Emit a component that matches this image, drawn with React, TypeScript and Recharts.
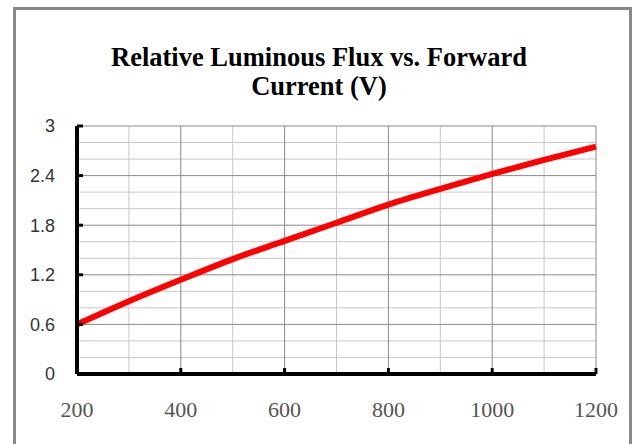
import React from 'react';
import { LineChart, Line, XAxis, YAxis, CartesianGrid } from 'recharts';

// forward current (mA) and relative luminous flux
const current = [200, 300, 400, 500, 600, 700, 800, 900, 1000, 1100, 1200];
const flux = [0.6, 0.88, 1.14, 1.39, 1.61, 1.83, 2.05, 2.24, 2.42, 2.59, 2.75];

const xTicks = [200, 400, 600, 800, 1000, 1200];
const yTicks = [0, 0.6, 1.2, 1.8, 2.4, 3];
const xMinor = [300, 500, 700, 900, 1100];
const yMinor = [0.2, 0.4, 0.8, 1.0, 1.4, 1.6, 2.0, 2.2, 2.6, 2.8];

const titleLines = ['Relative Luminous Flux vs. Forward', 'Current (V)'];

const data = current.map((c, i) => ({ current: c, flux: flux[i] }));

const XTick = ({ x, y, payload }: any) => (
  <g>
    {payload.value !== xTicks[0] && (
      <line x1={x} x2={x} y1={y} y2={y - 6} stroke="#000" strokeWidth={3} />
    )}
    <text
      x={x}
      y={y + 43}
      textAnchor="middle"
      fontFamily="'Liberation Serif', serif"
      fontSize={22}
      fill="#555"
    >
      {payload.value}
    </text>
  </g>
);

const YTick = ({ x, y, payload }: any) => (
  <g>
    {payload.value !== yTicks[0] && (
      <line x1={x} x2={x + 6} y1={y} y2={y} stroke="#000" strokeWidth={3} />
    )}
    <text
      x={x - 22}
      y={y}
      dy="0.36em"
      textAnchor="end"
      fontFamily="'Liberation Sans', sans-serif"
      fontSize={18}
      fill="#333"
    >
      {payload.value}
    </text>
  </g>
);

export default function App() {
  return (
    <div
      style={{
        position: 'absolute',
        left: 0,
        top: 0,
        width: 632,
        height: 444,
        overflow: 'hidden',
        background: '#fff',
      }}
    >
      <div
        style={{
          position: 'absolute',
          left: 13,
          top: 7,
          width: 613,
          height: 460,
          border: '3px solid #888',
        }}
      />
      <svg
        width={632}
        height={120}
        style={{ position: 'absolute', left: 0, top: 0, pointerEvents: 'none' }}
      >
        {titleLines.map((t, i) => (
          <text
            key={t}
            x={319}
            y={66 + i * 29}
            textAnchor="middle"
            fontFamily="'Liberation Serif', serif"
            fontWeight="bold"
            fontSize={26.5}
            fill="#000"
          >
            {t}
          </text>
        ))}
      </svg>
      <div style={{ position: 'absolute', left: 0, top: 0 }}>
        <LineChart
          width={632}
          height={444}
          data={data}
          margin={{ top: 126, right: 36, left: 0, bottom: 0 }}
        >
          <CartesianGrid
            horizontalValues={yMinor}
            verticalValues={xMinor}
            stroke="#c8c8c8"
            strokeWidth={1}
          />
          <CartesianGrid
            horizontalValues={yTicks}
            verticalValues={xTicks}
            stroke="#8a8a8a"
            strokeWidth={1}
          />
          <XAxis
            dataKey="current"
            type="number"
            domain={[200, 1200]}
            ticks={xTicks}
            height={70}
            tickSize={0}
            tickMargin={0}
            tickLine={false}
            axisLine={{ stroke: '#000', strokeWidth: 4 }}
            tick={<XTick />}
            interval={0}
          />
          <YAxis
            type="number"
            domain={[0, 3]}
            ticks={yTicks}
            width={77}
            tickSize={0}
            tickMargin={0}
            tickLine={false}
            axisLine={{ stroke: '#000', strokeWidth: 4 }}
            tick={<YTick />}
            interval={0}
          />
          <Line
            type="monotone"
            dataKey="flux"
            stroke="#ff0000"
            strokeWidth={6}
            dot={false}
            isAnimationActive={false}
          />
        </LineChart>
      </div>
    </div>
  );
}
